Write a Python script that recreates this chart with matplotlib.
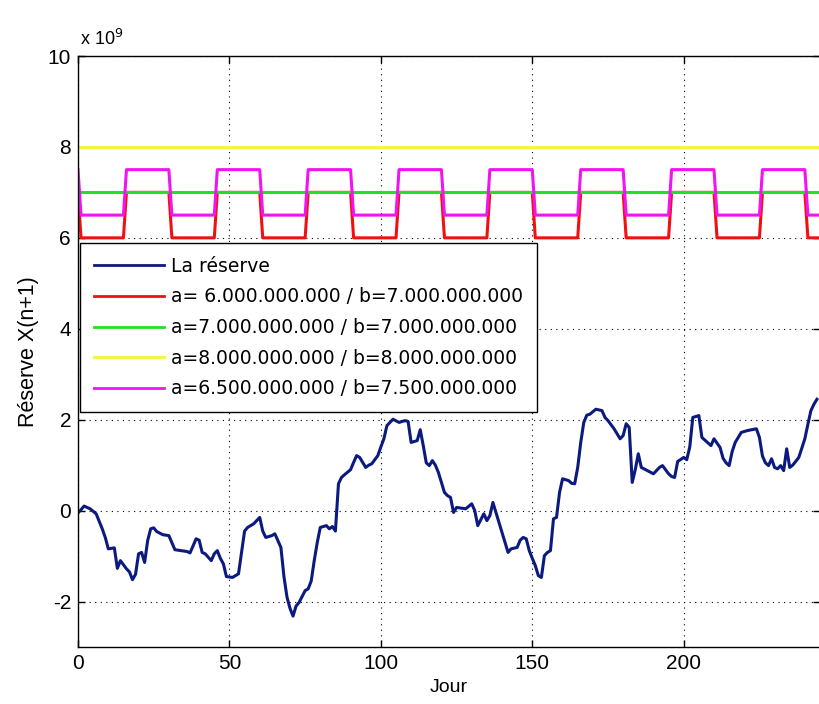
import matplotlib.pyplot as plt

# Reserve X(n+1), in units of 1e9, read day by day
jours = [0, 1, 2, 4, 6, 8, 9, 10, 12, 13, 14, 16, 17, 18, 19, 20, 21, 22, 23, 24,
         25, 26, 28, 30, 32, 34, 36, 37, 39, 40, 41, 42, 44, 45, 46, 47, 48, 49, 51, 53,
         55, 56, 58, 59, 60, 61, 62, 64, 65, 67, 68, 69, 70, 71, 72, 73, 75, 76, 77, 78,
         79, 80, 82, 83, 84, 85, 86, 87, 88, 90, 91, 92, 93, 95, 96, 97, 99, 100, 101, 102,
         103, 104, 106, 108, 109, 110, 112, 113, 114, 115, 116, 117, 118, 119, 120, 121, 122, 123, 124, 125,
         128, 130, 131, 132, 134, 135, 136, 137, 138, 140, 142, 143, 145, 146, 147, 148, 149, 150, 151, 152,
         153, 154, 155, 156, 157, 158, 159, 160, 162, 163, 164, 165, 166, 167, 168, 169, 171, 173, 174, 175,
         177, 179, 180, 181, 182, 183, 184, 185, 186, 188, 190, 192, 193, 195, 196, 197, 198, 200, 201, 202,
         203, 205, 206, 207, 209, 210, 212, 213, 214, 215, 216, 217, 219, 221, 224, 225, 226, 227, 228, 229,
         230, 231, 232, 233, 234, 235, 236, 238, 240, 241, 242, 243, 244]
reserve = [-0.05, 0.02, 0.10, 0.04, -0.07, -0.40, -0.59, -0.84, -0.82, -1.27, -1.10, -1.28, -1.35, -1.52, -1.40, -0.95, -0.92, -1.14, -0.66, -0.40,
           -0.38, -0.46, -0.53, -0.55, -0.86, -0.88, -0.90, -0.93, -0.62, -0.65, -0.92, -0.95, -1.10, -0.95, -0.88, -1.05, -1.17, -1.45, -1.47, -1.39,
           -0.45, -0.37, -0.29, -0.22, -0.15, -0.45, -0.59, -0.55, -0.51, -0.81, -1.45, -1.90, -2.15, -2.32, -2.10, -2.02, -1.76, -1.72, -1.55, -1.10,
           -0.70, -0.37, -0.33, -0.40, -0.35, -0.45, 0.59, 0.73, 0.79, 0.90, 1.06, 1.21, 1.17, 0.95, 1.00, 1.03, 1.21, 1.40, 1.58, 1.87,
           1.94, 2.01, 1.94, 1.98, 1.96, 1.50, 1.54, 1.78, 1.43, 1.05, 0.99, 1.10, 1.00, 0.84, 0.62, 0.40, 0.33, 0.29, -0.04, 0.07,
           0.04, 0.15, 0.00, -0.33, -0.07, -0.22, -0.11, 0.18, -0.04, -0.48, -0.92, -0.84, -0.81, -0.65, -0.59, -0.62, -0.88, -1.05, -1.21, -1.43,
           -1.47, -0.99, -0.92, -0.88, -0.18, -0.15, 0.40, 0.70, 0.66, 0.60, 0.59, 0.95, 1.50, 1.94, 2.10, 2.12, 2.23, 2.20, 2.05, 1.98,
           1.80, 1.58, 1.65, 1.91, 1.83, 0.62, 0.90, 1.25, 0.95, 0.88, 0.81, 0.95, 0.99, 0.81, 0.75, 0.73, 1.08, 1.17, 1.12, 1.40,
           2.05, 2.09, 1.61, 1.55, 1.43, 1.58, 1.39, 1.15, 1.05, 0.99, 1.30, 1.50, 1.72, 1.76, 1.80, 1.61, 1.20, 1.05, 0.99, 1.14,
           0.95, 0.92, 0.99, 0.88, 1.36, 0.95, 1.00, 1.17, 1.58, 1.90, 2.20, 2.34, 2.45]

# (a, b) thresholds in units of 1e9; the rule switches between a and b
seuils_a = [6.0, 7.0, 8.0, 6.5]
seuils_b = [7.0, 7.0, 8.0, 7.5]
labels = ['a= 6.000.000.000 / b=7.000.000.000',
          'a=7.000.000.000 / b=7.000.000.000',
          'a=8.000.000.000 / b=8.000.000.000',
          'a=6.500.000.000 / b=7.500.000.000']
couleurs = ['#f01010', '#22e022', '#f4f43c', '#f014f0']

# days where the threshold changes, and whether it sits on b (1) or a (0)
bascule_jours = [0, 1, 15, 16, 30, 31, 45, 46, 60, 61, 75, 76, 90, 91, 105, 106, 120, 121,
                 135, 136, 150, 151, 165, 166, 180, 181, 195, 196, 210, 211, 225, 226, 240, 241, 245]
bascule_haut = [1, 0, 0, 1, 1, 0, 0, 1, 1, 0, 0, 1, 1, 0, 0, 1, 1, 0,
                0, 1, 1, 0, 0, 1, 1, 0, 0, 1, 1, 0, 0, 1, 1, 0, 0]

plt.rcParams['font.family'] = ['Liberation Sans', 'DejaVu Sans']
plt.rcParams['axes.unicode_minus'] = False

fig = plt.figure(figsize=(8.2, 7.04), dpi=100)
ax = fig.add_axes([78 / 820, 57 / 704, 742 / 820, 591 / 704])

ax.plot(jours, reserve, color='#0b1a7e', lw=2.2, label='La réserve')
for a, b, lab, c in zip(seuils_a, seuils_b, labels, couleurs):
    niveaux = [b if h else a for h in bascule_haut]
    ax.plot(bascule_jours, niveaux, color=c, lw=2.2, label=lab)

ax.set_xlim(0, 245)
ax.set_ylim(-3, 10)
ax.set_xticks([0, 50, 100, 150, 200])
ax.set_yticks([-2, 0, 2, 4, 6, 8, 10])
ax.grid(True, color='black', linestyle=(0, (1, 4)), lw=0.8)
ax.tick_params(direction='in', top=True, right=True, length=5, width=1,
               labelsize=15, pad=5)
for s in ax.spines.values():
    s.set_linewidth(1.0)

ax.set_xlabel('Jour', fontsize=14, labelpad=4)
ax.set_ylabel('Réserve X(n+1)', fontsize=15.5, labelpad=6)
ax.text(0.003, 1.012, r'x 10$^{9}$', transform=ax.transAxes, fontsize=13,
        ha='left', va='bottom')

leg = ax.legend(loc='upper left', bbox_to_anchor=(0.003, 0.684), borderaxespad=0,
                prop={'family': 'DejaVu Sans', 'size': 13.5},
                handlelength=3.7, handletextpad=0.4, labelspacing=0.62,
                fancybox=False, framealpha=1, edgecolor='black', borderpad=0.75)
leg.get_frame().set_linewidth(1.0)
for line in leg.get_lines():
    line.set_linewidth(2.0)

plt.savefig('out.png', dpi=100)
